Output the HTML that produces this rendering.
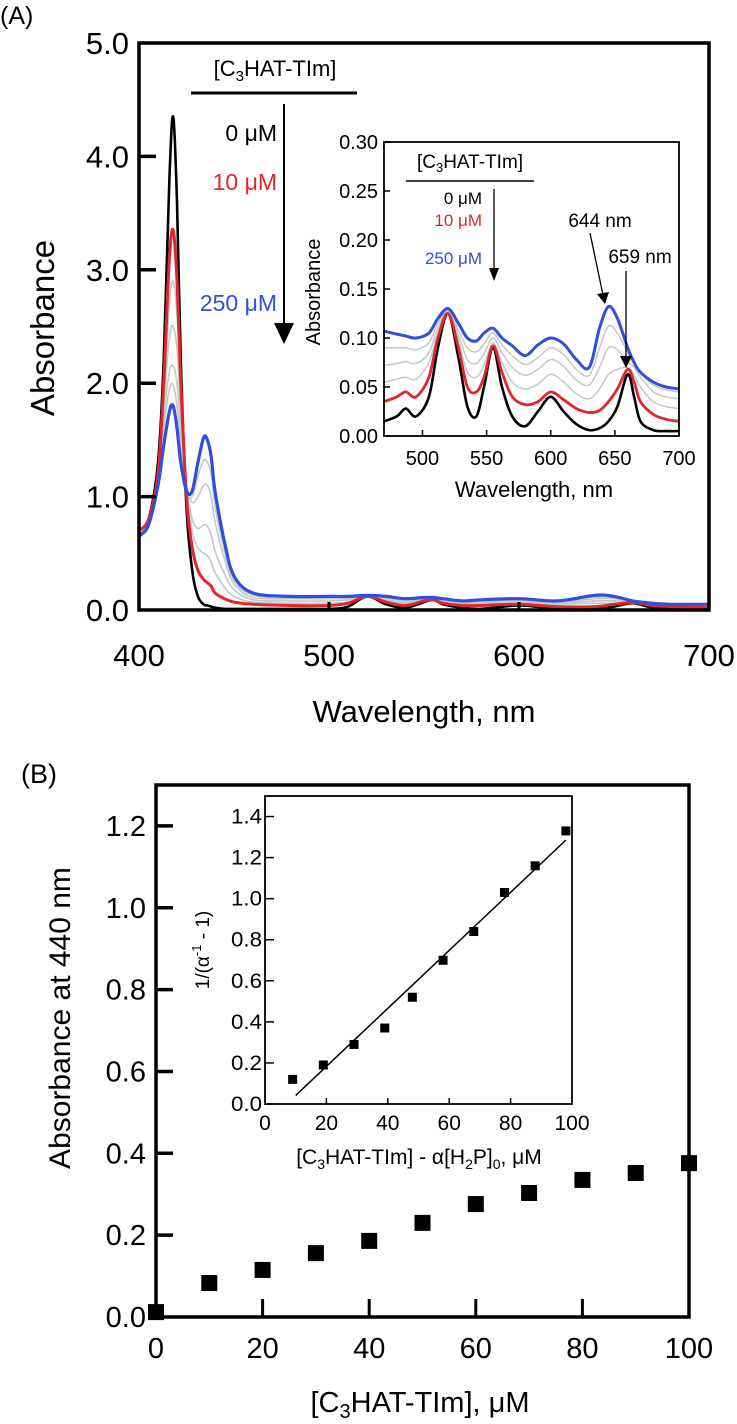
<!DOCTYPE html>
<html><head><meta charset="utf-8">
<style>
html,body{margin:0;padding:0;background:#fff;}
svg{display:block;font-family:"Liberation Sans",Arial,sans-serif;}
</style></head>
<body>
<svg id="fig" width="737" height="1424" viewBox="0 0 737 1424" xmlns="http://www.w3.org/2000/svg">
  <rect x="0" y="0" width="737" height="1424" fill="#fff"/>
  <text x="0" y="24" font-size="25">(A)</text>
  <text x="21" y="783" font-size="27">(B)</text>
  <g id="gA"></g>
  <g id="gAi"></g>
  <g id="gB"></g>
  <g id="gBi"></g>
</svg>
<script>
// ---------- Panel A main data ----------
const wlA = [400,405,410,413,416,418,420,422,425,428,431,434,436,438,440,445,450,460,480,500,510,520,530,540,550,555,560,570,580,600,620,640,650,660,670,680,690,700];
const absBlack = [0.7,0.8,1.3,2.2,3.8,4.35,3.6,2.2,0.9,0.35,0.12,0.05,0.04,0.03,0.02,0.01,0.01,0.01,0.01,0.01,0.03,0.12,0.05,0.02,0.07,0.09,0.05,0.02,0.01,0.04,0.01,0.01,0.03,0.06,0.02,0.01,0.01,0.01];
const absRed = [0.7,0.8,1.2,2.0,3.1,3.35,2.9,2.0,1.0,0.55,0.35,0.27,0.24,0.21,0.15,0.1,0.07,0.05,0.04,0.04,0.06,0.12,0.07,0.04,0.08,0.09,0.06,0.04,0.04,0.05,0.03,0.03,0.05,0.065,0.04,0.03,0.025,0.02];
const absGray1 = [0.7,0.8,1.2,1.9,2.7,2.9,2.6,1.9,1.1,0.7,0.55,0.5,0.48,0.42,0.33,0.2,0.12,0.07,0.06,0.06,0.07,0.12,0.08,0.06,0.09,0.095,0.07,0.06,0.06,0.065,0.05,0.06,0.06,0.07,0.05,0.04,0.03,0.03];
const absGray2 = [0.7,0.8,1.15,1.8,2.4,2.5,2.3,1.75,1.1,0.8,0.72,0.75,0.74,0.66,0.52,0.32,0.18,0.09,0.08,0.08,0.09,0.125,0.09,0.07,0.095,0.1,0.08,0.07,0.07,0.08,0.06,0.08,0.08,0.075,0.055,0.045,0.04,0.035];
const absGray3 = [0.68,0.78,1.12,1.7,2.1,2.15,2.0,1.6,1.1,0.95,1.0,1.1,1.1,1.0,0.78,0.45,0.23,0.11,0.1,0.1,0.105,0.13,0.105,0.085,0.1,0.105,0.09,0.075,0.08,0.09,0.07,0.1,0.1,0.08,0.06,0.05,0.045,0.04];
const absGray4 = [0.66,0.76,1.1,1.6,1.95,1.98,1.8,1.45,1.05,1.0,1.18,1.32,1.3,1.2,0.92,0.52,0.26,0.13,0.11,0.11,0.11,0.13,0.11,0.09,0.105,0.108,0.095,0.078,0.085,0.095,0.075,0.115,0.11,0.08,0.06,0.05,0.047,0.045];
const absBlue = [0.65,0.75,1.1,1.45,1.75,1.8,1.6,1.3,1.05,1.05,1.3,1.52,1.5,1.35,1.05,0.6,0.3,0.15,0.12,0.12,0.12,0.13,0.12,0.1,0.11,0.11,0.1,0.08,0.09,0.1,0.08,0.13,0.12,0.08,0.06,0.05,0.05,0.05];
const ticksAy = [0,1,2,3,4,5];
const ticksAx = [400,500,600,700];

// ---------- Panel A inset data ----------
const wlAi = [470,480,487,495,505,512,520,528,535,542,548,555,562,570,580,590,600,610,620,630,638,645,652,660,665,670,680,690,700];
const inBlack = [0.015,0.02,0.028,0.02,0.04,0.09,0.125,0.08,0.03,0.02,0.05,0.09,0.05,0.02,0.01,0.025,0.04,0.025,0.012,0.006,0.008,0.015,0.03,0.063,0.04,0.015,0.006,0.005,0.005];
const inRed = [0.035,0.04,0.045,0.04,0.06,0.1,0.125,0.09,0.05,0.045,0.06,0.092,0.065,0.04,0.032,0.035,0.045,0.037,0.028,0.024,0.026,0.035,0.048,0.068,0.055,0.035,0.022,0.017,0.015];
const inGray1 = [0.055,0.058,0.06,0.058,0.075,0.105,0.126,0.097,0.065,0.06,0.072,0.095,0.075,0.055,0.048,0.053,0.063,0.055,0.043,0.038,0.048,0.063,0.068,0.07,0.062,0.05,0.035,0.03,0.028];
const inGray2 = [0.072,0.074,0.076,0.074,0.085,0.11,0.127,0.103,0.078,0.074,0.084,0.1,0.085,0.07,0.062,0.068,0.078,0.071,0.057,0.052,0.07,0.09,0.088,0.076,0.07,0.06,0.045,0.04,0.038];
const inGray3 = [0.09,0.09,0.09,0.088,0.095,0.115,0.128,0.108,0.09,0.086,0.094,0.105,0.093,0.082,0.073,0.08,0.09,0.083,0.068,0.062,0.09,0.112,0.105,0.085,0.074,0.065,0.052,0.047,0.045];
const inBlue = [0.107,0.104,0.102,0.1,0.105,0.12,0.13,0.115,0.1,0.097,0.105,0.11,0.1,0.092,0.082,0.093,0.1,0.094,0.078,0.07,0.11,0.132,0.12,0.09,0.075,0.065,0.055,0.05,0.048];
const ticksAiy = ["0.00","0.05","0.10","0.15","0.20","0.25","0.30"];
const ticksAix = [500,550,600,650,700];

// ---------- Panel B data ----------
const concB = [0,10,20,30,40,50,60,70,80,90,100];
const abs440 = [0.012,0.083,0.115,0.156,0.186,0.23,0.276,0.303,0.335,0.352,0.376];
const ticksBy = ["0.0","0.2","0.4","0.6","0.8","1.0","1.2"];
const ticksBx = [0,20,40,60,80,100];

// ---------- Panel B inset data ----------
const concBi = [9,19,29,39,48,58,68,78,88,98];
const invAlpha = [0.12,0.19,0.29,0.37,0.52,0.70,0.84,1.03,1.16,1.33];
const ticksBiy = ["0.0","0.2","0.4","0.6","0.8","1.0","1.2","1.4"];
const ticksBix = [0,20,40,60,80,100];

const NS = "http://www.w3.org/2000/svg";
function mk(parent, tag, attrs){ const e=document.createElementNS(NS,tag); for(const k in attrs) e.setAttribute(k,attrs[k]); parent.appendChild(e); return e; }
function linear(d0,d1,r0,r1){ return v => r0 + (v-d0)*(r1-r0)/(d1-d0); }
function smoothPath(xs, ys){
  let d = "M"+xs[0].toFixed(1)+","+ys[0].toFixed(1);
  for(let i=0;i<xs.length-1;i++){
    const x0=xs[Math.max(i-1,0)], y0=ys[Math.max(i-1,0)];
    const x1=xs[i], y1=ys[i], x2=xs[i+1], y2=ys[i+1];
    const x3=xs[Math.min(i+2,xs.length-1)], y3=ys[Math.min(i+2,xs.length-1)];
    const c1x=x1+(x2-x0)/6, c1y=y1+(y2-y0)/6, c2x=x2-(x3-x1)/6, c2y=y2-(y3-y1)/6;
    d += " C"+c1x.toFixed(1)+","+c1y.toFixed(1)+" "+c2x.toFixed(1)+","+c2y.toFixed(1)+" "+x2.toFixed(1)+","+y2.toFixed(1);
  }
  return d;
}

// ===== Panel A main =====
(function(){
  const g = document.getElementById("gA");
  const L=139,R=709,T=43,B=610;
  const x = linear(400,700,L,R), y = linear(0,5,B,T);
  const defs = mk(g,"defs",{});
  const cp = mk(defs,"clipPath",{id:"clipA"});
  mk(cp,"rect",{x:L,y:T,width:R-L,height:B-T});
  const series = [
    [absBlack,"#000",2.6,"series-0uM"],
    [absGray1,"#c4c8c8",1.6,"series-gray-1"],
    [absGray2,"#c4c8c8",1.6,"series-gray-2"],
    [absGray3,"#c4c8c8",1.6,"series-gray-3"],
    [absGray4,"#c4c8c8",1.6,"series-gray-4"],
    [absRed,"#e3262b",3,"series-10uM"],
    [absBlue,"#2f4fdc",3.2,"series-250uM"]
  ];
  series.forEach(s=>{
    const p = mk(g,"path",{d:smoothPath(wlA.map(x),s[0].map(y)),fill:"none",stroke:s[1],"stroke-width":s[2],"clip-path":"url(#clipA)","stroke-linejoin":"round"});
    
    
  });
  const fr = mk(g,"rect",{x:L,y:T,width:R-L,height:B-T,fill:"none",stroke:"#000","stroke-width":3.5});
  
  
  ticksAy.forEach(v=>{
    if(v>0 && v<5){
      const t = mk(g,"line",{x1:L,x2:L+17,y1:y(v),y2:y(v),stroke:"#000","stroke-width":3.5});
      
      
    }
    const tl = mk(g,"text",{x:L-10,y:y(v)+11,"font-size":31,"text-anchor":"end"});
    tl.textContent = v.toFixed(1);
    
    
  });
  ticksAx.forEach(v=>{
    if(v>400 && v<700){
      const t = mk(g,"line",{x1:x(v),x2:x(v),y1:B,y2:B-8,stroke:"#000","stroke-width":3});
      
      
    }
    const tl = mk(g,"text",{x:x(v),y:666,"font-size":31,"text-anchor":"middle"});
    tl.textContent = v;
    
    
  });
  const xt = mk(g,"text",{x:424,y:722,"font-size":31,"text-anchor":"middle"});
  xt.textContent = "Wavelength, nm";
  
  
  const yt = mk(g,"text",{x:0,y:0,"font-size":33,"text-anchor":"middle",transform:"translate(54,328) rotate(-90)"});
  yt.textContent = "Absorbance";
  
  
  const lt = mk(g,"text",{x:275,y:76,"font-size":22,"text-anchor":"middle"});
  lt.innerHTML = '[C<tspan font-size="15" dy="5">3</tspan><tspan dy="-5">HAT-TIm]</tspan>';
  
  
  const ll = mk(g,"line",{x1:191,x2:357,y1:93,y2:93,stroke:"#000","stroke-width":3});
  
  
  const al = mk(g,"line",{x1:284,x2:284,y1:104,y2:326,stroke:"#000","stroke-width":2});
  
  
  const ah = mk(g,"polygon",{points:"274,323 294,323 284,344",fill:"#000"});
  
  
  [["0 μM",141,"#000","legend-entry-0uM"],["10 μM",190,"#e3262b","legend-entry-10uM"],["250 μM",311,"#2f4fdc","legend-entry-250uM"]].forEach(e=>{
    const t = mk(g,"text",{x:277,y:e[1],"font-size":23,"text-anchor":"end",fill:e[2]});
    t.textContent = e[0];
    
    
  });
})();

// ===== Panel A inset =====
(function(){
  const g = document.getElementById("gAi");
  const L=384,R=679,T=142,B=436;
  const x = linear(470,700,L,R), y = linear(0,0.3,B,T);
  const bg = mk(g,"rect",{x:L,y:T,width:R-L,height:B-T,fill:"#fff"});
  
  
  const defs = mk(g,"defs",{});
  const cp = mk(defs,"clipPath",{id:"clipAi"});
  mk(cp,"rect",{x:L,y:T,width:R-L,height:B-T});
  const series = [
    [inBlack,"#000",2.6,"inset-series-0uM"],
    [inGray1,"#c4c8c8",1.5,"inset-series-gray-1"],
    [inGray2,"#c4c8c8",1.5,"inset-series-gray-2"],
    [inGray3,"#c4c8c8",1.5,"inset-series-gray-3"],
    [inRed,"#e3262b",2.8,"inset-series-10uM"],
    [inBlue,"#2f4fdc",3,"inset-series-250uM"]
  ];
  series.forEach(s=>{
    const p = mk(g,"path",{d:smoothPath(wlAi.map(x),s[0].map(y)),fill:"none",stroke:s[1],"stroke-width":s[2],"clip-path":"url(#clipAi)"});
    
    
  });
  const fr = mk(g,"rect",{x:L,y:T,width:R-L,height:B-T,fill:"none",stroke:"#000","stroke-width":1.8});
  
  
  ticksAiy.forEach(s=>{
    const v = parseFloat(s);
    const t = mk(g,"line",{x1:L,x2:L+6,y1:y(v),y2:y(v),stroke:"#000","stroke-width":1.5});
    
    
    const tl = mk(g,"text",{x:L-6,y:y(v)+7,"font-size":20,"text-anchor":"end"});
    tl.textContent = s;
    
    
  });
  ticksAix.forEach(v=>{
    const t = mk(g,"line",{x1:x(v),x2:x(v),y1:B,y2:B-6,stroke:"#000","stroke-width":1.5});
    
    
    const tl = mk(g,"text",{x:x(v),y:465,"font-size":20,"text-anchor":"middle"});
    tl.textContent = v;
    
    
  });
  const xt = mk(g,"text",{x:534,y:497,"font-size":22,"text-anchor":"middle"});
  xt.textContent = "Wavelength, nm";
  
  
  const yt = mk(g,"text",{x:0,y:0,"font-size":20,"text-anchor":"middle",transform:"translate(320,292) rotate(-90)"});
  yt.textContent = "Absorbance";
  
  
  const lt = mk(g,"text",{x:470,y:168,"font-size":19,"text-anchor":"middle"});
  lt.innerHTML = '[C<tspan font-size="13" dy="4">3</tspan><tspan dy="-4">HAT-TIm]</tspan>';
  
  
  const ll = mk(g,"line",{x1:406,x2:534,y1:181,y2:181,stroke:"#000","stroke-width":1.5});
  
  
  const al = mk(g,"line",{x1:494,x2:494,y1:189,y2:272,stroke:"#000","stroke-width":1.3});
  
  
  const ah = mk(g,"polygon",{points:"489,268 499,268 494,281",fill:"#000"});
  
  
  [["0 μM",204,"#000","inset-legend-0uM"],["10 μM",226,"#e3262b","inset-legend-10uM"],["250 μM",264,"#2f4fdc","inset-legend-250uM"]].forEach(e=>{
    const t = mk(g,"text",{x:482,y:e[1],"font-size":17,"text-anchor":"end",fill:e[2]});
    t.textContent = e[0];
    
    
  });
  const a1 = mk(g,"text",{x:600,y:227,"font-size":19,"text-anchor":"middle"});
  a1.textContent = "644 nm";
  
  
  const a2 = mk(g,"text",{x:640,y:263,"font-size":19,"text-anchor":"middle"});
  a2.textContent = "659 nm";
  
  
  const l1 = mk(g,"line",{x1:590,y1:233,x2:603,y2:295,stroke:"#000","stroke-width":1.3});
  
  
  const h1 = mk(g,"polygon",{points:"597,294 609,292 605,304",fill:"#000"});
  
  
  const l2 = mk(g,"line",{x1:626,y1:271,x2:626,y2:358,stroke:"#000","stroke-width":1.3});
  
  
  const h2 = mk(g,"polygon",{points:"620,356 632,356 626,368",fill:"#000"});
  
  
})();

// ===== Panel B main =====
(function(){
  const g = document.getElementById("gB");
  const L=156,R=689,T=785,B=1317;
  const x = linear(0,100,L,R), y = linear(0,1.3,B,T);
  const fr = mk(g,"rect",{x:L,y:T,width:R-L,height:B-T,fill:"none",stroke:"#000","stroke-width":3.5});
  
  
  ticksBy.forEach(s=>{
    const v = parseFloat(s);
    if(v>0){
      const t = mk(g,"line",{x1:L,x2:L+17,y1:y(v),y2:y(v),stroke:"#000","stroke-width":3.5});
      
      
    }
    const tl = mk(g,"text",{x:L-10,y:y(v)+10,"font-size":29,"text-anchor":"end"});
    tl.textContent = s;
    
    
  });
  ticksBx.forEach(v=>{
    if(v>0 && v<100){
      const t = mk(g,"line",{x1:x(v),x2:x(v),y1:B,y2:B-18,stroke:"#000","stroke-width":3});
      
      
    }
    const tl = mk(g,"text",{x:x(v),y:1358,"font-size":29,"text-anchor":"middle"});
    tl.textContent = v;
    
    
  });
  concB.forEach((c,i)=>{
    const m = mk(g,"rect",{x:x(c)-8,y:y(abs440[i])-8,width:16,height:16,fill:"#000"});
    
    
  });
  const xt = mk(g,"text",{x:420,y:1412,"font-size":29,"text-anchor":"middle"});
  xt.innerHTML = '[C<tspan font-size="20" dy="6">3</tspan><tspan dy="-6">HAT-TIm], μM</tspan>';
  
  
  const yt = mk(g,"text",{x:0,y:0,"font-size":30,"text-anchor":"middle",transform:"translate(70,1018) rotate(-90)"});
  yt.textContent = "Absorbance at 440 nm";
  
  
})();

// ===== Panel B inset =====
(function(){
  const g = document.getElementById("gBi");
  const L=265,R=572,T=796,B=1104;
  const x = linear(0,100,L,R), y = linear(0,1.5,B,T);
  const fr = mk(g,"rect",{x:L,y:T,width:R-L,height:B-T,fill:"none",stroke:"#000","stroke-width":1.8});
  
  
  ticksBiy.forEach(s=>{
    const v = parseFloat(s);
    const t = mk(g,"line",{x1:L,x2:L+9,y1:y(v),y2:y(v),stroke:"#000","stroke-width":1.5});
    
    
    const tl = mk(g,"text",{x:L-3,y:y(v)+7,"font-size":21,"text-anchor":"end",textLength:31,lengthAdjust:"spacingAndGlyphs"});
    tl.textContent = s;
    
    
  });
  ticksBix.forEach(v=>{
    if(v>0 && v<100){
      const t = mk(g,"line",{x1:x(v),x2:x(v),y1:B,y2:B-6,stroke:"#000","stroke-width":1.5});
      
      
    }
    const tl = mk(g,"text",{x:x(v),y:1130,"font-size":21,"text-anchor":"middle"});
    tl.textContent = v;
    
    
  });
  const n = concBi.length;
  const mx = concBi.reduce((a,b)=>a+b,0)/n, my = invAlpha.reduce((a,b)=>a+b,0)/n;
  let sxy=0,sxx=0; for(let i=0;i<n;i++){ sxy+=(concBi[i]-mx)*(invAlpha[i]-my); sxx+=(concBi[i]-mx)**2; }
  const slope = sxy/sxx, icpt = my - slope*mx;
  const x0 = concBi[0]+1, x1 = concBi[n-1];
  const fl = mk(g,"line",{x1:x(x0),y1:y(icpt+slope*x0),x2:x(x1),y2:y(icpt+slope*x1),stroke:"#000","stroke-width":1.5});
  
  
  concBi.forEach((c,i)=>{
    const m = mk(g,"rect",{x:x(c)-4.5,y:y(invAlpha[i])-4.5,width:9,height:9,fill:"#000"});
    
    
  });
  const xt = mk(g,"text",{x:419,y:1164,"font-size":21,"text-anchor":"middle"});
  xt.innerHTML = '[C<tspan font-size="14" dy="5">3</tspan><tspan dy="-5">HAT-TIm] - α[H</tspan><tspan font-size="14" dy="5">2</tspan><tspan dy="-5">P]</tspan><tspan font-size="14" dy="5">0</tspan><tspan dy="-5">,  μM</tspan>';
  
  
  const yt = mk(g,"text",{x:0,y:0,"font-size":19,"text-anchor":"middle",transform:"translate(209,950) rotate(-90)"});
  yt.innerHTML = '1/(α<tspan font-size="13" dy="-8">-1</tspan><tspan dy="8"> - 1)</tspan>';
  
  
})();
</script>
</body></html>
